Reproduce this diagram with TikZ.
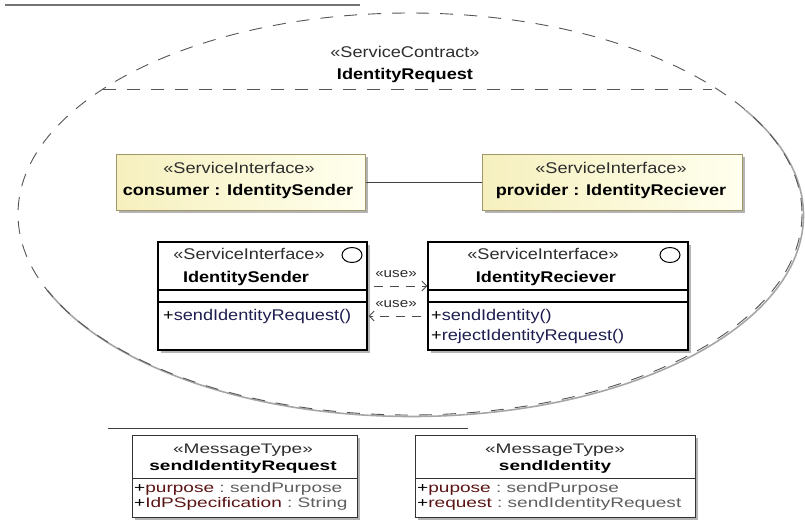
\documentclass[tikz,border=0pt]{standalone}
\usepackage{fontspec}
\setmainfont{Liberation Sans}
\usepackage{graphicx}
\usetikzlibrary{shadows,arrows.meta,shapes.geometric}

\newcommand{\hs}[1]{\scalebox{1.17}[1]{#1}}
\newcommand{\ms}[1]{\scalebox{1.38}[1]{#1}}

\definecolor{stcol}{RGB}{45,45,45}
\definecolor{opcol}{RGB}{30,30,80}
\definecolor{atcol}{RGB}{90,20,20}
\definecolor{tycol}{RGB}{95,95,95}
\definecolor{yelA}{RGB}{246,240,190}
\definecolor{yelB}{RGB}{255,255,238}
\definecolor{yelborder}{RGB}{160,150,105}
\definecolor{shad}{RGB}{180,180,180}
\definecolor{ellcol}{RGB}{85,85,85}

\begin{document}
\begin{tikzpicture}[x=1pt,y=-1pt,
  txt/.style={inner sep=0pt, anchor=base, font=\fontsize{15.5}{17}\selectfont},
  txtl/.style={txt, anchor=base west},
  mtxt/.style={inner sep=0pt, anchor=base, font=\fontsize{13.8}{15}\selectfont},
  mtxtl/.style={mtxt, anchor=base west},
  boxshadow/.style={drop shadow={shadow xshift=2.5pt, shadow yshift=-2.5pt, fill=shad, opacity=1}},
  partbox/.style={draw=yelborder, line width=1pt, left color=yelA, right color=yelB, boxshadow, inner sep=0pt},
  clsbox/.style={draw=black, line width=1.3pt, fill=white, boxshadow, inner sep=0pt},
  msgbox/.style={draw=black!80, line width=1pt, fill=white, boxshadow, inner sep=0pt},
  iconc/.style={draw=black, line width=1pt, ellipse, minimum width=20pt, minimum height=15pt, inner sep=0pt},
  usearrow/.style={draw=black!70, line width=0.8pt, dash pattern=on 9pt off 7pt, -{Straight Barb[length=5pt,width=10pt]}},
  ctrline/.style={ellcol, line width=0.9pt, dash pattern=on 13pt off 11pt}
]
\useasboundingbox (0,0) rectangle (805,520);

% separator lines
\draw[black!55, line width=1.2pt] (5,5) -- (360,5);
\draw[black!75, line width=1pt] (108,428) -- (468,428);

% service contract ellipse with shadow on its lower part
\begin{scope}
  \clip (0,290) -- (640,290) -- (640,110) -- (805,110) -- (805,520) -- (0,520) -- cycle;
  \draw[black!35, line width=1.6pt] (411.5,215.5) ellipse [x radius=392, y radius=201];
\end{scope}
\draw[ctrline] (410,214) ellipse [x radius=392, y radius=201];
\draw[ctrline] (103,89) -- (712,89);
\node[txt, text=stcol] (cst) at (405,57) {\hs{«ServiceContract»}};
\node[txt] (cnm) at (405,79) {\hs{\bfseries IdentityRequest}};

% parts
\node[partbox, minimum width=249pt, minimum height=56pt] (cons) at (240.5,182) {};
\node[partbox, minimum width=260pt, minimum height=56pt] (prov) at (612,182) {};
\draw[black!75, line width=1pt] (cons.east) -- (prov.west);
\node[txt, text=stcol] (consst) at (239,173) {\hs{«ServiceInterface»}};
\node[txt] (consnm) at (238,195) {\hs{\bfseries consumer : IdentitySender}};
\node[txt, text=stcol] (provst) at (611,173) {\hs{«ServiceInterface»}};
\node[txt] (provnm) at (611,195) {\hs{\bfseries provider : IdentityReciever}};

% interfaces
\node[clsbox, minimum width=209pt, minimum height=108pt] (snd) at (262.5,296) {};
\node[clsbox, minimum width=260pt, minimum height=108pt] (rcv) at (558,296) {};
\draw[line width=1.2pt] (158,290) -- (367,290) (158,302) -- (367,302);
\draw[line width=1.2pt] (428,290) -- (688,290) (428,302) -- (688,302);
\node[iconc] (sndc) at (352,255) {};
\node[iconc] (rcvc) at (670,255) {};
\node[txt, text=stcol] (sndst) at (249,259) {\hs{«ServiceInterface»}};
\node[txt] (sndnm) at (246,282) {\hs{\bfseries IdentitySender}};
\node[txtl] (sndop) at (163,320) {\hs{+\textcolor{opcol}{sendIdentityRequest()}}};
\node[txt, text=stcol] (rcvst) at (543,259) {\hs{«ServiceInterface»}};
\node[txt] (rcvnm) at (546,282) {\hs{\bfseries IdentityReciever}};
\node[txtl] (rcvop1) at (431,320) {\hs{+\textcolor{opcol}{sendIdentity()}}};
\node[txtl] (rcvop2) at (431,340) {\hs{+\textcolor{opcol}{rejectIdentityRequest()}}};

% use dependencies
\draw[usearrow] ([xshift=6pt]snd.east |- 0,286) -- (rcv.west |- 0,286);
\draw[usearrow] ([xshift=-6pt]rcv.west |- 0,316) -- ([xshift=1pt]snd.east |- 0,316);
\node[inner sep=0pt, anchor=base, font=\fontsize{13}{15}\selectfont, text=stcol] (use1) at (396,277) {\hs{«use»}};
\node[inner sep=0pt, anchor=base, font=\fontsize{13}{15}\selectfont, text=stcol] (use2) at (396,307) {\hs{«use»}};

% message types
\node[msgbox, minimum width=225pt, minimum height=82pt] (m1) at (244.5,476) {};
\node[msgbox, minimum width=280pt, minimum height=82pt] (m2) at (555,476) {};
\draw[black!80, line width=1pt] (132,478) -- (357,478) (415,478) -- (695,478);
\node[mtxt, text=stcol] (m1st) at (243,453) {\ms{«MessageType»}};
\node[mtxt] (m1nm) at (243,470) {\ms{\bfseries sendIdentityRequest}};
\node[mtxtl] (m1a1) at (134,492) {\ms{+\textcolor{atcol}{purpose}\textcolor{tycol}{\ :\ sendPurpose}}};
\node[mtxtl] (m1a2) at (134,507) {\ms{+\textcolor{atcol}{IdPSpecification}\textcolor{tycol}{\ :\ String}}};
\node[mtxt, text=stcol] (m2st) at (555,453) {\ms{«MessageType»}};
\node[mtxt] (m2nm) at (555,470) {\ms{\bfseries sendIdentity}};
\node[mtxtl] (m2a1) at (417,492) {\ms{+\textcolor{atcol}{pupose}\textcolor{tycol}{\ :\ sendPurpose}}};
\node[mtxtl] (m2a2) at (417,507) {\ms{+\textcolor{atcol}{request}\textcolor{tycol}{\ :\ sendIdentityRequest}}};
\end{tikzpicture}
\end{document}
